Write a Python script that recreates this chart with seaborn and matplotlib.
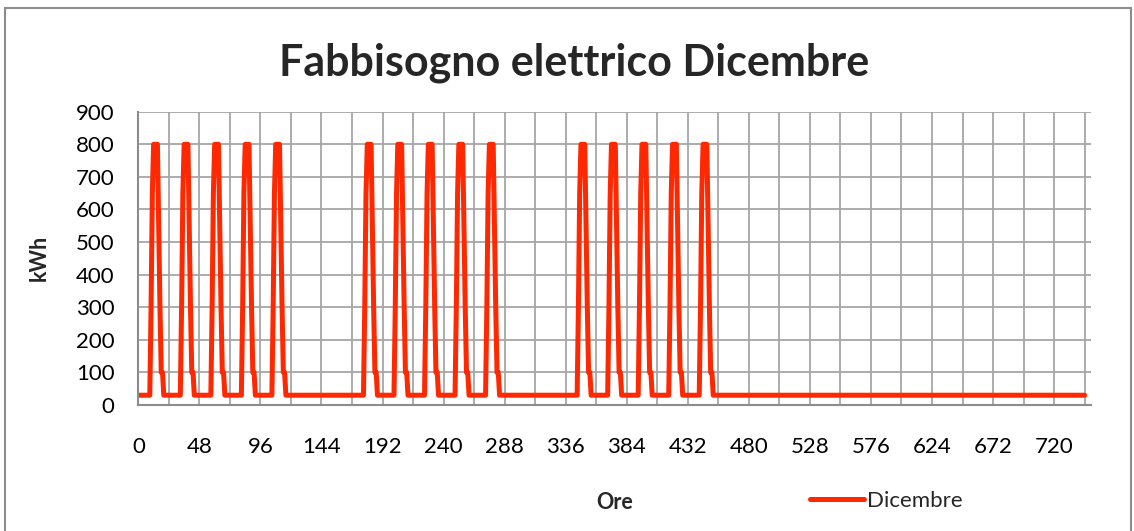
import pandas as pd
import seaborn as sns
import matplotlib.pyplot as plt
from matplotlib.patches import Rectangle

# hourly load of a working day (hours 1..24), kWh
weekday_profile = [30, 30, 30, 30, 30, 30, 30, 30, 30, 300, 650, 800,
                   800, 800, 800, 550, 300, 100, 100, 30, 30, 30, 30, 30]
# load on non-working days
base_load = 30
working_days = [1, 2, 3, 4, 5, 8, 9, 10, 11, 12, 15, 16, 17, 18, 19]
n_days = 31

x_ticks = list(range(0, 721, 48))
x_grid = list(range(0, 745, 24))
y_ticks = list(range(0, 901, 100))

values = []
for day in range(1, n_days + 1):
    if day in working_days:
        values += weekday_profile
    else:
        values += [base_load] * 24
df = pd.DataFrame({'Ore': range(1, len(values) + 1), 'kWh': values})

sns.set_style('white')
plt.rcParams['font.family'] = ['Lato', 'DejaVu Sans']

grid_col = '#a6a6a6'
red = '#ff2800'

fig = plt.figure(figsize=(11.34, 5.31), dpi=100)
ax = fig.add_axes([0.122, 0.2373, 0.8405, 0.5523])

sns.lineplot(data=df, x='Ore', y='kWh', ax=ax, color=red, linewidth=3.6,
             label='Dicembre', solid_capstyle='round', solid_joinstyle='round')

ax.set_xlim(0, 749.4)
ax.set_ylim(0, 900)
ax.set_xticks(x_ticks)
ax.set_xticks(x_grid, minor=True)
ax.set_yticks(y_ticks)
ax.grid(True, which='both', color=grid_col, linewidth=1.3)
ax.set_axisbelow(True)
for s in ['top', 'right']:
    ax.spines[s].set_visible(False)
for s in ['left', 'bottom']:
    ax.spines[s].set_color('#8c8c8c')
    ax.spines[s].set_linewidth(1.5)
ax.tick_params(axis='both', which='major', direction='out', length=5, width=1.5,
               color='#8c8c8c', labelsize=16, labelcolor='black')
ax.tick_params(axis='x', which='major', pad=18)
ax.tick_params(axis='y', which='major', pad=12)
ax.tick_params(axis='x', which='minor', length=0)

ax.set_xlabel('Ore', fontsize=15.5, fontweight='bold')
ax.xaxis.set_label_coords(0.5, -0.298)
ax.set_ylabel('kWh', fontsize=15.5, fontweight='bold')
ax.yaxis.set_label_coords(-0.093, 0.5)

fig.text(0.506, 0.882, 'Fabbisogno elettrico Dicembre', fontsize=31,
         fontweight='bold', ha='center', va='center')

ax.legend(loc='center left', bbox_to_anchor=(0.697, 0.057), bbox_transform=fig.transFigure,
          frameon=False, fontsize=16, handlelength=2.4, handletextpad=0.15)

fig.add_artist(Rectangle((0.004, -0.01), 0.993, 0.994, transform=fig.transFigure,
                         fill=False, edgecolor='#8c8c8c', linewidth=1.5))

fig.savefig('out.png', dpi=100)
